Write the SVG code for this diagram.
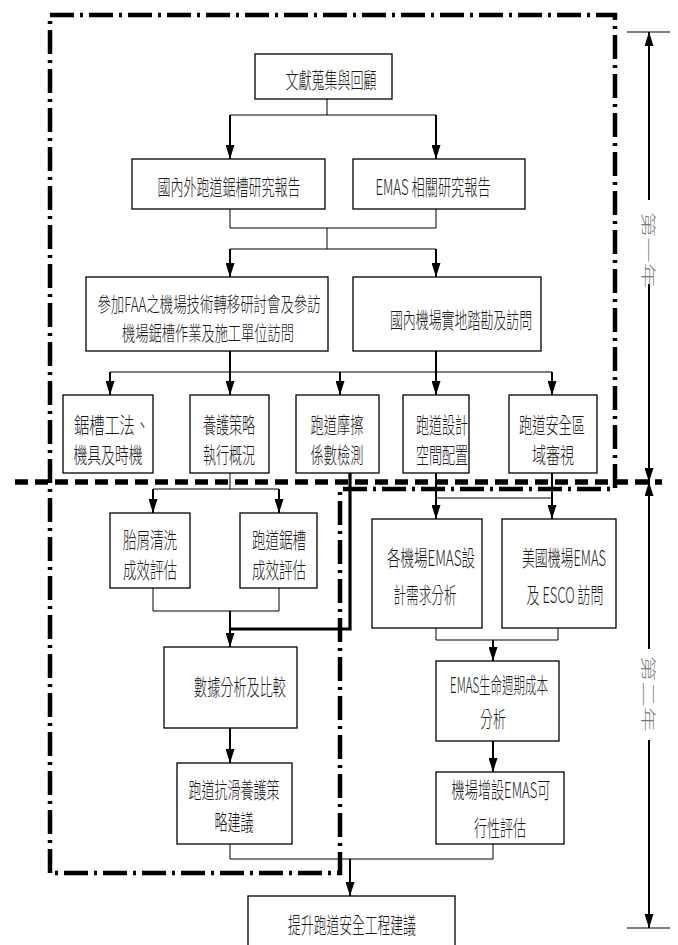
<svg xmlns="http://www.w3.org/2000/svg" width="678" height="945" viewBox="0 0 678 945">
<style>
.box{fill:#fff;stroke:#000;stroke-width:1.3}
.t{font-family:"Noto Sans CJK TC","Noto Sans CJK SC",sans-serif;font-size:22px;font-weight:300;fill:#1a1a1a;text-anchor:middle;dominant-baseline:central}
.s{font-size:20px}
.yr{font-family:"Noto Sans CJK TC","Noto Sans CJK SC",sans-serif;font-size:15px;font-weight:300;fill:#777;text-anchor:middle;dominant-baseline:central}
.c{fill:none;stroke:#000;stroke-width:1}
.a{fill:none;stroke:#000;stroke-width:2;marker-end:url(#ah)}
.thick{fill:none;stroke:#000;stroke-width:3.2}
.dd{fill:none;stroke:#000;stroke-width:4.5;stroke-dasharray:24 6 3 6}
.dash{fill:none;stroke:#000;stroke-width:5.5;stroke-dasharray:13 7}
.dim{fill:none;stroke:#000;stroke-width:2;marker-end:url(#ah)}
.tick{fill:none;stroke:#000;stroke-width:1.2}
</style>
<defs>
<marker id="ah" viewBox="0 0 14 9" markerWidth="14" markerHeight="9" refX="14" refY="4.5" orient="auto" markerUnits="userSpaceOnUse">
<path d="M0,0 L14,4.5 L0,9 z" fill="#000"/>
</marker>
</defs>

<g id="frames">
<path class="dd" d="M50,873 L50,15 L615,15 L615,489 L340,489 L340,873 Z"/>
<line class="dash" x1="15" y1="482" x2="662" y2="482"/>
</g>

<g id="connectors">
<path class="c" d="M327,99 V115 M230,115 H436"/>
<path class="a" d="M230,115 V159"/>
<path class="a" d="M436,115 V159"/>
<path class="c" d="M230,209 V228 H436 V209 M327,228 V249 M230,249 H436"/>
<path class="a" d="M230,249 V277"/>
<path class="a" d="M436,249 V277"/>
<path class="c" d="M110,372 H552"/>
<path class="a" d="M230,351 V395"/>
<path class="a" d="M436,351 V395"/>
<path class="a" d="M110,372 V395"/>
<path class="a" d="M340,372 V395"/>
<path class="a" d="M552,372 V395"/>
<path class="c" d="M230,473 V489 M153,489 H279"/>
<path class="a" d="M153,489 V513"/>
<path class="a" d="M279,489 V513"/>
<path class="c" d="M436,498 H552"/>
<path class="a" d="M436,473 V519"/>
<path class="a" d="M552,473 V519"/>
<path class="c" d="M153,588 V611 H279 V588"/>
<path class="thick" d="M350,473 V629 H230"/>
<path class="a" d="M230,611 V647"/>
<path class="c" d="M436,628 V640 H558 V628"/>
<path class="a" d="M493,640 V661"/>
<path class="a" d="M230,728 V763"/>
<path class="a" d="M493,741 V772"/>
<path class="c" d="M230,844 V859 H493 V844"/>
<path class="a" d="M350,859 V896"/>
</g>

<g id="timeline">
<line class="tick" x1="627" y1="32" x2="670" y2="32"/>
<line class="tick" x1="627" y1="928" x2="670" y2="928"/>
<path class="dim" d="M649,200 V32"/>
<path class="dim" d="M649,284 V482"/>
<path class="dim" d="M649,649 V482"/>
<path class="dim" d="M649,740 V928"/>
<text class="yr" transform="translate(649,250) rotate(90)" textLength="76" lengthAdjust="spacingAndGlyphs">第一年</text>
<text class="yr" transform="translate(649,694) rotate(90)" textLength="76" lengthAdjust="spacingAndGlyphs">第二年</text>
</g>

<g id="n1"><rect class="box" x="255" y="54" width="137" height="45"/>
<text class="t" transform="translate(331,78) scale(0.6,1)" textLength="152" lengthAdjust="spacingAndGlyphs">文獻蒐集與回顧</text></g>

<g id="n2"><rect class="box" x="132" y="159" width="193" height="50"/>
<text class="t" transform="translate(229,185) scale(0.6,1)" textLength="238" lengthAdjust="spacingAndGlyphs">國內外跑道鋸槽研究報告</text></g>

<g id="n3"><rect class="box" x="353" y="159" width="172" height="50"/>
<text class="t" transform="translate(433,185) scale(0.6,1)" textLength="192" lengthAdjust="spacingAndGlyphs">EMAS 相關研究報告</text></g>

<g id="n4"><rect class="box" x="86" y="277" width="242" height="74"/>
<text class="t s" transform="translate(209,304) scale(0.6,1)" textLength="372" lengthAdjust="spacingAndGlyphs">參加FAA之機場技術轉移研討會及參訪</text>
<text class="t s" transform="translate(208,333) scale(0.6,1)" textLength="287" lengthAdjust="spacingAndGlyphs">機場鋸槽作業及施工單位訪問</text></g>

<g id="n5"><rect class="box" x="353" y="277" width="188" height="74"/>
<text class="t" transform="translate(461,318) scale(0.6,1)" textLength="237" lengthAdjust="spacingAndGlyphs">國內機場實地踏勘及訪問</text></g>

<g id="n6"><rect class="box" x="63" y="395" width="90" height="78"/>
<text class="t" transform="translate(112,423) scale(0.6,1)" textLength="127" lengthAdjust="spacingAndGlyphs">鋸槽工法、</text>
<text class="t" transform="translate(108,453) scale(0.6,1)" textLength="115" lengthAdjust="spacingAndGlyphs">機具及時機</text></g>

<g id="n7"><rect class="box" x="190" y="395" width="79" height="78"/>
<text class="t" transform="translate(229,423) scale(0.6,1)" textLength="87" lengthAdjust="spacingAndGlyphs">養護策略</text>
<text class="t" transform="translate(229,453) scale(0.6,1)" textLength="87" lengthAdjust="spacingAndGlyphs">執行概況</text></g>

<g id="n8"><rect class="box" x="296" y="395" width="83" height="78"/>
<text class="t" transform="translate(337,423) scale(0.6,1)" textLength="88" lengthAdjust="spacingAndGlyphs">跑道摩擦</text>
<text class="t" transform="translate(337,453) scale(0.6,1)" textLength="88" lengthAdjust="spacingAndGlyphs">係數檢測</text></g>

<g id="n9"><rect class="box" x="403" y="395" width="66" height="78"/>
<text class="t" transform="translate(442,423) scale(0.6,1)" textLength="87" lengthAdjust="spacingAndGlyphs">跑道設計</text>
<text class="t" transform="translate(442,453) scale(0.6,1)" textLength="87" lengthAdjust="spacingAndGlyphs">空間配置</text></g>

<g id="n10"><rect class="box" x="509" y="395" width="88" height="78"/>
<text class="t" transform="translate(552,423) scale(0.6,1)" textLength="110" lengthAdjust="spacingAndGlyphs">跑道安全區</text>
<text class="t" transform="translate(553,453) scale(0.6,1)" textLength="70" lengthAdjust="spacingAndGlyphs">域審視</text></g>

<g id="n11"><rect class="box" x="110" y="513" width="80" height="75"/>
<text class="t" transform="translate(150,538) scale(0.6,1)" textLength="90" lengthAdjust="spacingAndGlyphs">胎屑清洗</text>
<text class="t" transform="translate(150,568) scale(0.6,1)" textLength="90" lengthAdjust="spacingAndGlyphs">成效評估</text></g>

<g id="n12"><rect class="box" x="240" y="513" width="77" height="75"/>
<text class="t" transform="translate(279,538) scale(0.6,1)" textLength="90" lengthAdjust="spacingAndGlyphs">跑道鋸槽</text>
<text class="t" transform="translate(279,568) scale(0.6,1)" textLength="90" lengthAdjust="spacingAndGlyphs">成效評估</text></g>

<g id="n13"><rect class="box" x="372" y="519" width="110" height="109"/>
<text class="t" transform="translate(431,556) scale(0.6,1)" textLength="147" lengthAdjust="spacingAndGlyphs">各機場EMAS設</text>
<text class="t" transform="translate(425,593) scale(0.6,1)" textLength="105" lengthAdjust="spacingAndGlyphs">計需求分析</text></g>

<g id="n14"><rect class="box" x="502" y="519" width="114" height="109"/>
<text class="t" transform="translate(564,556) scale(0.6,1)" textLength="140" lengthAdjust="spacingAndGlyphs">美國機場EMAS</text>
<text class="t" transform="translate(565,593) scale(0.6,1)" textLength="128" lengthAdjust="spacingAndGlyphs">及 ESCO 訪問</text></g>

<g id="n15"><rect class="box" x="164" y="647" width="133" height="81"/>
<text class="t" transform="translate(240,685) scale(0.6,1)" textLength="153" lengthAdjust="spacingAndGlyphs">數據分析及比較</text></g>

<g id="n16"><rect class="box" x="436" y="661" width="123" height="80"/>
<text class="t" transform="translate(499,683) scale(0.6,1)" textLength="163" lengthAdjust="spacingAndGlyphs">EMAS生命週期成本</text>
<text class="t" transform="translate(493,717) scale(0.6,1)" textLength="43" lengthAdjust="spacingAndGlyphs">分析</text></g>

<g id="n17"><rect class="box" x="177" y="763" width="115" height="81"/>
<text class="t" transform="translate(234,788) scale(0.6,1)" textLength="152" lengthAdjust="spacingAndGlyphs">跑道抗滑養護策</text>
<text class="t" transform="translate(234,820) scale(0.6,1)" textLength="65" lengthAdjust="spacingAndGlyphs">略建議</text></g>

<g id="n18"><rect class="box" x="436" y="772" width="128" height="72"/>
<text class="t" transform="translate(501,788) scale(0.6,1)" textLength="165" lengthAdjust="spacingAndGlyphs">機場增設EMAS可</text>
<text class="t" transform="translate(500,826) scale(0.6,1)" textLength="87" lengthAdjust="spacingAndGlyphs">行性評估</text></g>

<g id="n19"><rect class="box" x="248" y="896" width="207" height="60"/>
<text class="t" transform="translate(352,923) scale(0.6,1)" textLength="213" lengthAdjust="spacingAndGlyphs">提升跑道安全工程建議</text></g>
</svg>
